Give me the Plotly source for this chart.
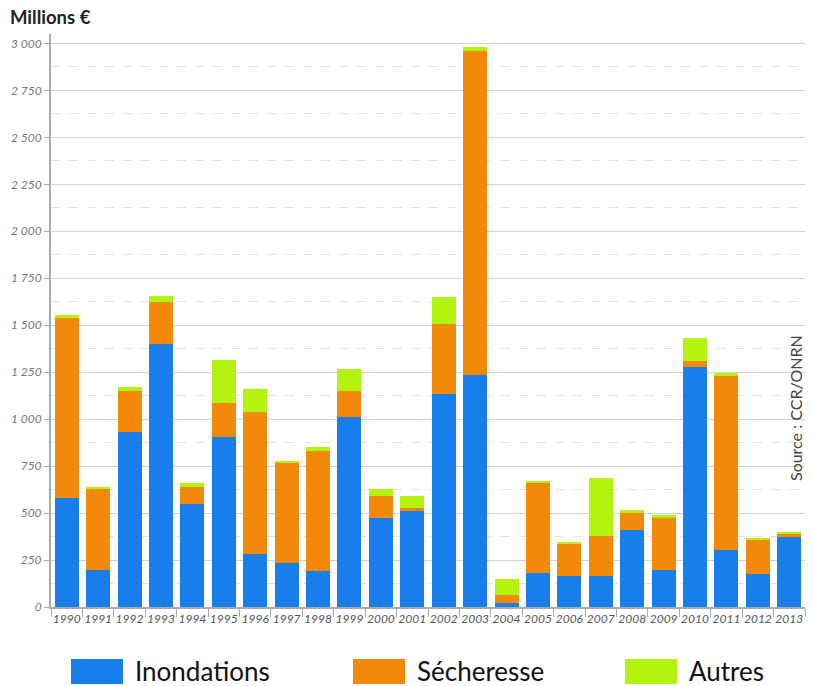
import plotly.graph_objects as go

years = [str(y) for y in range(1990, 2014)]
inondations = [582, 199, 934, 1402, 550, 906, 284, 236, 193, 1014, 476, 513,
               1136, 1233, 23, 183, 167, 167, 412, 199, 1280, 305, 178, 375]
secheresse = [954, 431, 218, 219, 91, 182, 756, 533, 640, 138, 117, 16,
              368, 1725, 43, 479, 170, 213, 91, 277, 32, 928, 180, 15]
autres = [16, 6, 21, 37, 21, 229, 123, 5, 21, 117, 37, 64,
          144, 21, 85, 6, 5, 309, 16, 16, 122, 10, 6, 11]

series_names = ["Inondations", "Sécheresse", "Autres"]
series_values = [inondations, secheresse, autres]
colors = ["#187fea", "#f2890a", "#b4f310"]

W, H = 813, 686
ML, MR, MT, MB = 51, 8, 34, 79
PW, PH = W - ML - MR, H - MT - MB


def px2paper(x, y):
    return (x - ML) / PW, (H - MB - y) / PH


fig = go.Figure()
for name, vals, col in zip(series_names, series_values, colors):
    fig.add_trace(go.Bar(x=years, y=vals, name=name, marker_color=col,
                         marker_line_width=0, showlegend=False))

fig.update_layout(
    width=W, height=H, autosize=False,
    barmode="stack", bargap=0.236,
    plot_bgcolor="white", paper_bgcolor="white",
    margin=dict(l=ML, r=MR, t=MT, b=MB),
    separators=", ",
    xaxis=dict(type="category", tickson="boundaries", ticks="outside",
               ticklen=8, tickcolor="#aaa", tickwidth=1,
               showline=True, linecolor="#aaa", linewidth=2,
               tickfont=dict(family="Lato", size=12, color="#555", style="italic"),
               tickangle=0, range=[-0.5, 23.5]),
    yaxis=dict(range=[0, 3050], dtick=250, tick0=0, ticks="outside",
               ticklen=5, tickcolor="#aaa", showline=True, linecolor="#aaa",
               linewidth=2, gridcolor="#d3d3d3", gridwidth=1,
               tickfont=dict(family="Lato", size=12, color="#777", style="italic"),
               tickformat=",d", zeroline=False,
               minor=dict(dtick=125, tick0=0, showgrid=True,
                          gridcolor="#e3e3e3", griddash="dash", ticks="")),
    font=dict(family="Lato, 'Open Sans', sans-serif"),
)

annotations = []
shapes = []

# title
tx, ty = px2paper(8, 17)
annotations.append(dict(text="<b>Millions €</b>", x=tx, y=ty, xref="paper", yref="paper",
                        xanchor="left", yanchor="middle", showarrow=False,
                        font=dict(family="Lato", size=18.5, color="#222", weight=900)))

# source
sx, sy = px2paper(795, 408)
annotations.append(dict(text="Source : CCR/ONRN", x=sx, y=sy, xref="paper", yref="paper",
                        xanchor="center", yanchor="middle", showarrow=False, textangle=-90,
                        font=dict(family="Lato", size=16, color="#444")))

# custom legend
legend_pos = [(71, 135), (353, 417), (625, 689)]
for (bx, txx), name, col in zip(legend_pos, series_names, colors):
    x0, y0 = px2paper(bx, 684)
    x1, y1 = px2paper(bx + 52, 659)
    shapes.append(dict(type="rect", xref="paper", yref="paper", x0=x0, x1=x1,
                       y0=y0, y1=y1, fillcolor=col, line_width=0))
    lx, ly = px2paper(txx - 2, 671)
    annotations.append(dict(text=name, x=lx, y=ly, xref="paper", yref="paper",
                            xanchor="left", yanchor="middle", showarrow=False,
                            font=dict(family="Lato", size=26, color="#111")))

fig.update_layout(annotations=annotations, shapes=shapes)

fig.write_html("out.html", config={"displayModeBar": False},
               post_script="document.body.style.margin='0';document.body.style.overflow='hidden';")
